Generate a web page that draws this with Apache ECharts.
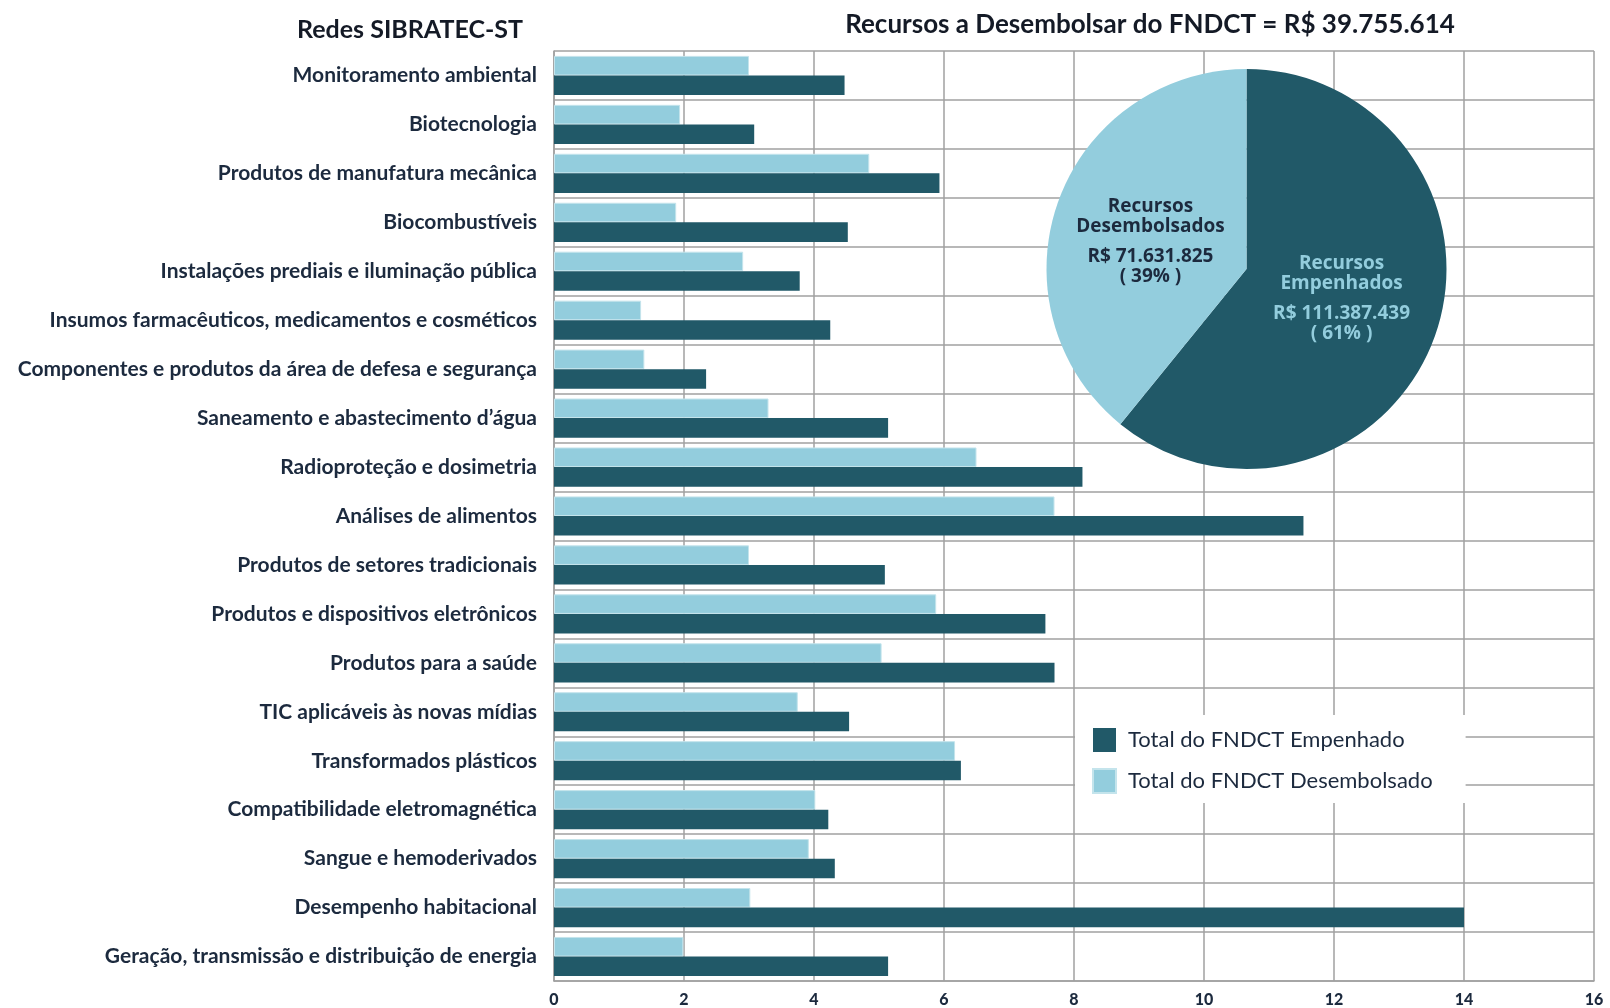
<!DOCTYPE html>
<html>
<head>
<meta charset="utf-8">
<script src="https://cdn.jsdelivr.net/npm/echarts@6/dist/echarts.min.js"></script>
<style>
html,body{margin:0;padding:0;background:#fff;}
#chart{width:1610px;height:1008px;}
</style>
</head>
<body>
<div id="chart"></div>
<script>
// redes (de cima para baixo)
const categorias = [
  'Monitoramento ambiental',
  'Biotecnologia',
  'Produtos de manufatura mecânica',
  'Biocombustíveis',
  'Instalações prediais e iluminação pública',
  'Insumos farmacêuticos, medicamentos e cosméticos',
  'Componentes e produtos da área de defesa e segurança',
  'Saneamento e abastecimento d’água',
  'Radioproteção e dosimetria',
  'Análises de alimentos',
  'Produtos de setores tradicionais',
  'Produtos e dispositivos eletrônicos',
  'Produtos para a saúde',
  'TIC aplicáveis às novas mídias',
  'Transformados plásticos',
  'Compatibilidade eletromagnética',
  'Sangue e hemoderivados',
  'Desempenho habitacional',
  'Geração, transmissão e distribuição de energia'
];
// valores em R$ milhões
const desembolsado = [3.0, 1.94, 4.85, 1.88, 2.91, 1.34, 1.39, 3.30, 6.50, 7.70, 3.0, 5.88, 5.04, 3.75, 6.17, 4.02, 3.92, 3.02, 1.99];
const empenhado = [4.47, 3.08, 5.93, 4.52, 3.78, 4.25, 2.34, 5.14, 8.13, 11.53, 5.09, 7.56, 7.70, 4.54, 6.26, 4.22, 4.32, 14.0, 5.14];
const eixoX = [0, 2, 4, 6, 8, 10, 12, 14, 16];

// pizza
const pizzaNomes = ['Recursos Empenhados', 'Recursos Desembolsados'];
const pizzaValores = [111387439, 71631825];
const pizzaTextos = ['R$ 111.387.439', 'R$ 71.631.825'];

const corEscura = '#215968';
const corClara = '#93cddd';
const corTexto = '#1c2a3e';
const corGrade = '#a0a0a0';

let mycharts = echarts.init(document.getElementById('chart'));
let options = {
  animation: false,
  title: [
    {
      text: 'Redes SIBRATEC-ST',
      left: 405, top: 12, textAlign: 'center',
      textStyle: {fontFamily: 'Lato', fontWeight: 'bold', fontSize: 25, color: '#141a26'}
    },
    {
      text: 'Recursos a Desembolsar do FNDCT = R$ 39.755.614',
      left: 1145, top: 7, textAlign: 'center',
      textStyle: {fontFamily: 'Lato', fontWeight: 'bold', fontSize: 26, color: '#141a26'}
    }
  ],
  legend: {
    orient: 'vertical',
    left: 1075, top: 715,
    padding: [13, 33, 9, 17],
    backgroundColor: '#fff',
    icon: 'rect',
    itemWidth: 23, itemHeight: 24, itemGap: 16,
    data: ['Total do FNDCT Empenhado', 'Total do FNDCT Desembolsado'],
    textStyle: {fontFamily: 'Lato', fontSize: 22, color: corTexto, padding: [0, 0, 0, 7]},
    z: 5
  },
  grid: {
    left: 554, right: 16, top: 51, bottom: 27,
    containLabel: false,
    outerBoundsMode: 'none'
  },
  xAxis: {
    type: 'value',
    min: eixoX[0], max: eixoX[eixoX.length - 1], interval: 2,
    axisLine: {show: true, lineStyle: {color: corGrade, width: 1.5}},
    axisTick: {show: false},
    axisLabel: {
      margin: 11,
      fontFamily: 'Lato', fontWeight: 900, fontSize: 16, color: corTexto,
      formatter: v => eixoX.includes(v) ? String(v) : ''
    },
    splitLine: {show: true, lineStyle: {color: corGrade, width: 1.5}}
  },
  yAxis: {
    type: 'category',
    inverse: true,
    data: categorias,
    axisLine: {show: true, lineStyle: {color: corGrade, width: 1.5}},
    axisTick: {show: false},
    axisLabel: {
      interval: 0, margin: 17, padding: [5, 0, 0, 0],
      fontFamily: 'Lato', fontWeight: 'bold', fontSize: 21, color: corTexto
    },
    splitLine: {show: true, interval: 0, lineStyle: {color: corGrade, width: 1.5}}
  },
  series: [
    {
      name: 'Total do FNDCT Desembolsado',
      type: 'bar',
      data: desembolsado,
      barGap: '0%',
      barCategoryGap: '20%',
      itemStyle: {color: corClara, borderColor: '#c4e4ec', borderWidth: 1}
    },
    {
      name: 'Total do FNDCT Empenhado',
      type: 'bar',
      data: empenhado,
      barGap: '0%',
      barCategoryGap: '20%',
      itemStyle: {color: corEscura}
    },
    {
      name: 'Recursos',
      type: 'pie',
      center: [1246.5, 269],
      radius: 200,
      startAngle: 90,
      clockwise: true,
      z: 3,
      itemStyle: {
        color: p => p.dataIndex === 0 ? corEscura : corClara
      },
      emphasis: {disabled: true},
      labelLine: {show: false},
      label: {
        position: 'inside',
        formatter: p => {
          let partes = p.name.split(' ');
          let pct = Math.round(p.percent);
          return '{a|' + partes[0] + '}\n{a|' + partes[1] + '}\n{g|}\n{a|' + pizzaTextos[p.dataIndex] + '}\n{a|( ' + pct + '% )}';
        },
        rich: {
          a: {fontFamily: 'Open Sans', fontWeight: 'bold', fontSize: 19, lineHeight: 20, align: 'center'},
          g: {fontSize: 6, lineHeight: 10}
        }
      },
      labelLayout: p => p.dataIndex === 0 ? {dx: -2, dy: -5} : {dx: 1, dy: 7},
      data: [
        {name: pizzaNomes[0], value: pizzaValores[0], label: {color: corClara}},
        {name: pizzaNomes[1], value: pizzaValores[1], label: {color: corTexto}}
      ]
    }
  ]
};
mycharts.setOption(options, true);
window.addEventListener('resize', () => mycharts.resize());
</script>
</body>
</html>
